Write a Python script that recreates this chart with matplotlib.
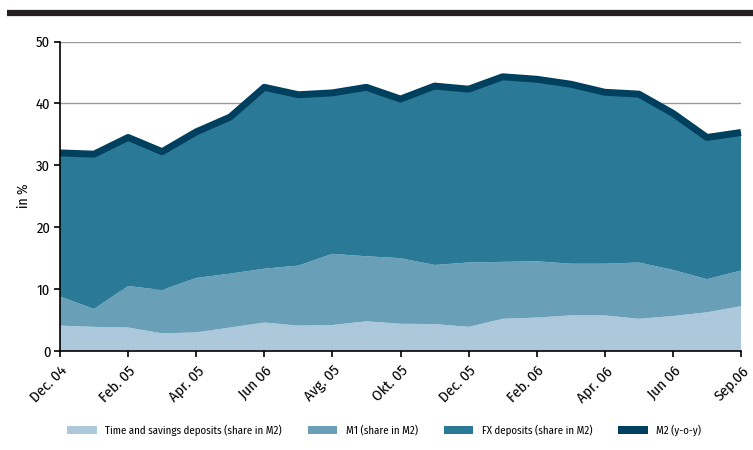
import matplotlib
matplotlib.use("Agg")
import matplotlib.pyplot as plt
from matplotlib.patches import Patch

# --- data ---
months = ["Dec. 04", "Feb. 05", "Apr. 05", "Jun 06", "Avg. 05", "Okt. 05",
          "Dec. 05", "Feb. 06", "Apr. 06", "Jun 06", "Sep.06"]

time_savings = [4.1, 3.9, 3.8, 2.85, 3.0, 3.8, 4.6, 4.1, 4.2, 4.8, 4.4,
                4.35, 3.9, 5.2, 5.4, 5.75, 5.75, 5.2, 5.65, 6.25, 7.25]
m1_share = [4.7, 2.9, 6.7, 7.0, 8.8, 8.7, 8.7, 9.7, 11.5, 10.5, 10.6,
            9.55, 10.4, 9.2, 9.1, 8.35, 8.35, 9.1, 7.45, 5.35, 5.75]
fx_share = [23.2, 25.0, 24.0, 22.35, 23.6, 25.3, 29.3, 27.6, 26.0, 27.3, 25.7,
            28.9, 28.0, 29.9, 29.4, 29.0, 27.7, 27.2, 25.3, 22.9, 22.3]
m2_yoy = [32.0, 31.8, 34.5, 32.2, 35.4, 37.8, 42.6, 41.4, 41.7, 42.6, 40.7,
          42.8, 42.3, 44.3, 43.9, 43.1, 41.8, 41.5, 38.4, 34.5, 35.3]

labels = ["Time and savings deposits (share in M2)", "M1 (share in M2)",
          "FX deposits (share in M2)", "M2 (y-o-y)"]
colors = ["#adc8da", "#6a9fb8", "#2a7997", "#00405f"]

# condensed font, close to the original's look
plt.rcParams['font.family'] = ["Fira Sans Condensed", "DejaVu Sans"]

x = list(range(len(m2_yoy)))

fig = plt.figure(figsize=(7.53, 4.5), dpi=100)
ax = fig.add_axes([60 / 753, 1 - 351 / 450, 681 / 753, 309.5 / 450])

# thick bar across the top
fig.add_artist(plt.Line2D([7 / 753, 1], [1 - 13 / 450, 1 - 13 / 450],
                          color="#231f20", lw=4.5, solid_capstyle="butt"))

ax.stackplot(x, time_savings, m1_share, fx_share, colors=colors[:3],
             linewidth=0, zorder=2)
ax.plot(x, m2_yoy, color=colors[3], lw=5, solid_capstyle="butt",
        clip_on=False, zorder=3)

ax.set_xlim(0, 20)
ax.set_ylim(0, 50)
ax.set_yticks(range(0, 51, 10))
ax.yaxis.grid(True, color="#9a9a9a", lw=1)
ax.set_axisbelow(True)
ax.set_xticks(range(0, 21, 2))
ax.set_xticklabels(months, rotation=45, ha="right", rotation_mode="anchor")

for side in ["top", "right"]:
    ax.spines[side].set_visible(False)
for side in ["left", "bottom"]:
    ax.spines[side].set_linewidth(1.2)
    ax.spines[side].set_zorder(4)
ax.tick_params(axis="both", direction="out", length=4, width=1.2,
               labelsize=10.5, colors="black", pad=3)
ax.tick_params(axis="x", pad=5, labelsize=11)
ax.set_ylabel("in %", fontsize=10, labelpad=4)

handles = [Patch(facecolor=c, edgecolor="none") for c in colors]
fig.legend(handles, labels, loc="center left",
           bbox_to_anchor=(62 / 753, 1 - 430 / 450),
           ncol=4, frameon=False, fontsize=7.8, handlelength=2.7,
           handleheight=0.75, handletextpad=0.8, columnspacing=2.4,
           borderpad=0)

fig.savefig("out.png", dpi=100)
